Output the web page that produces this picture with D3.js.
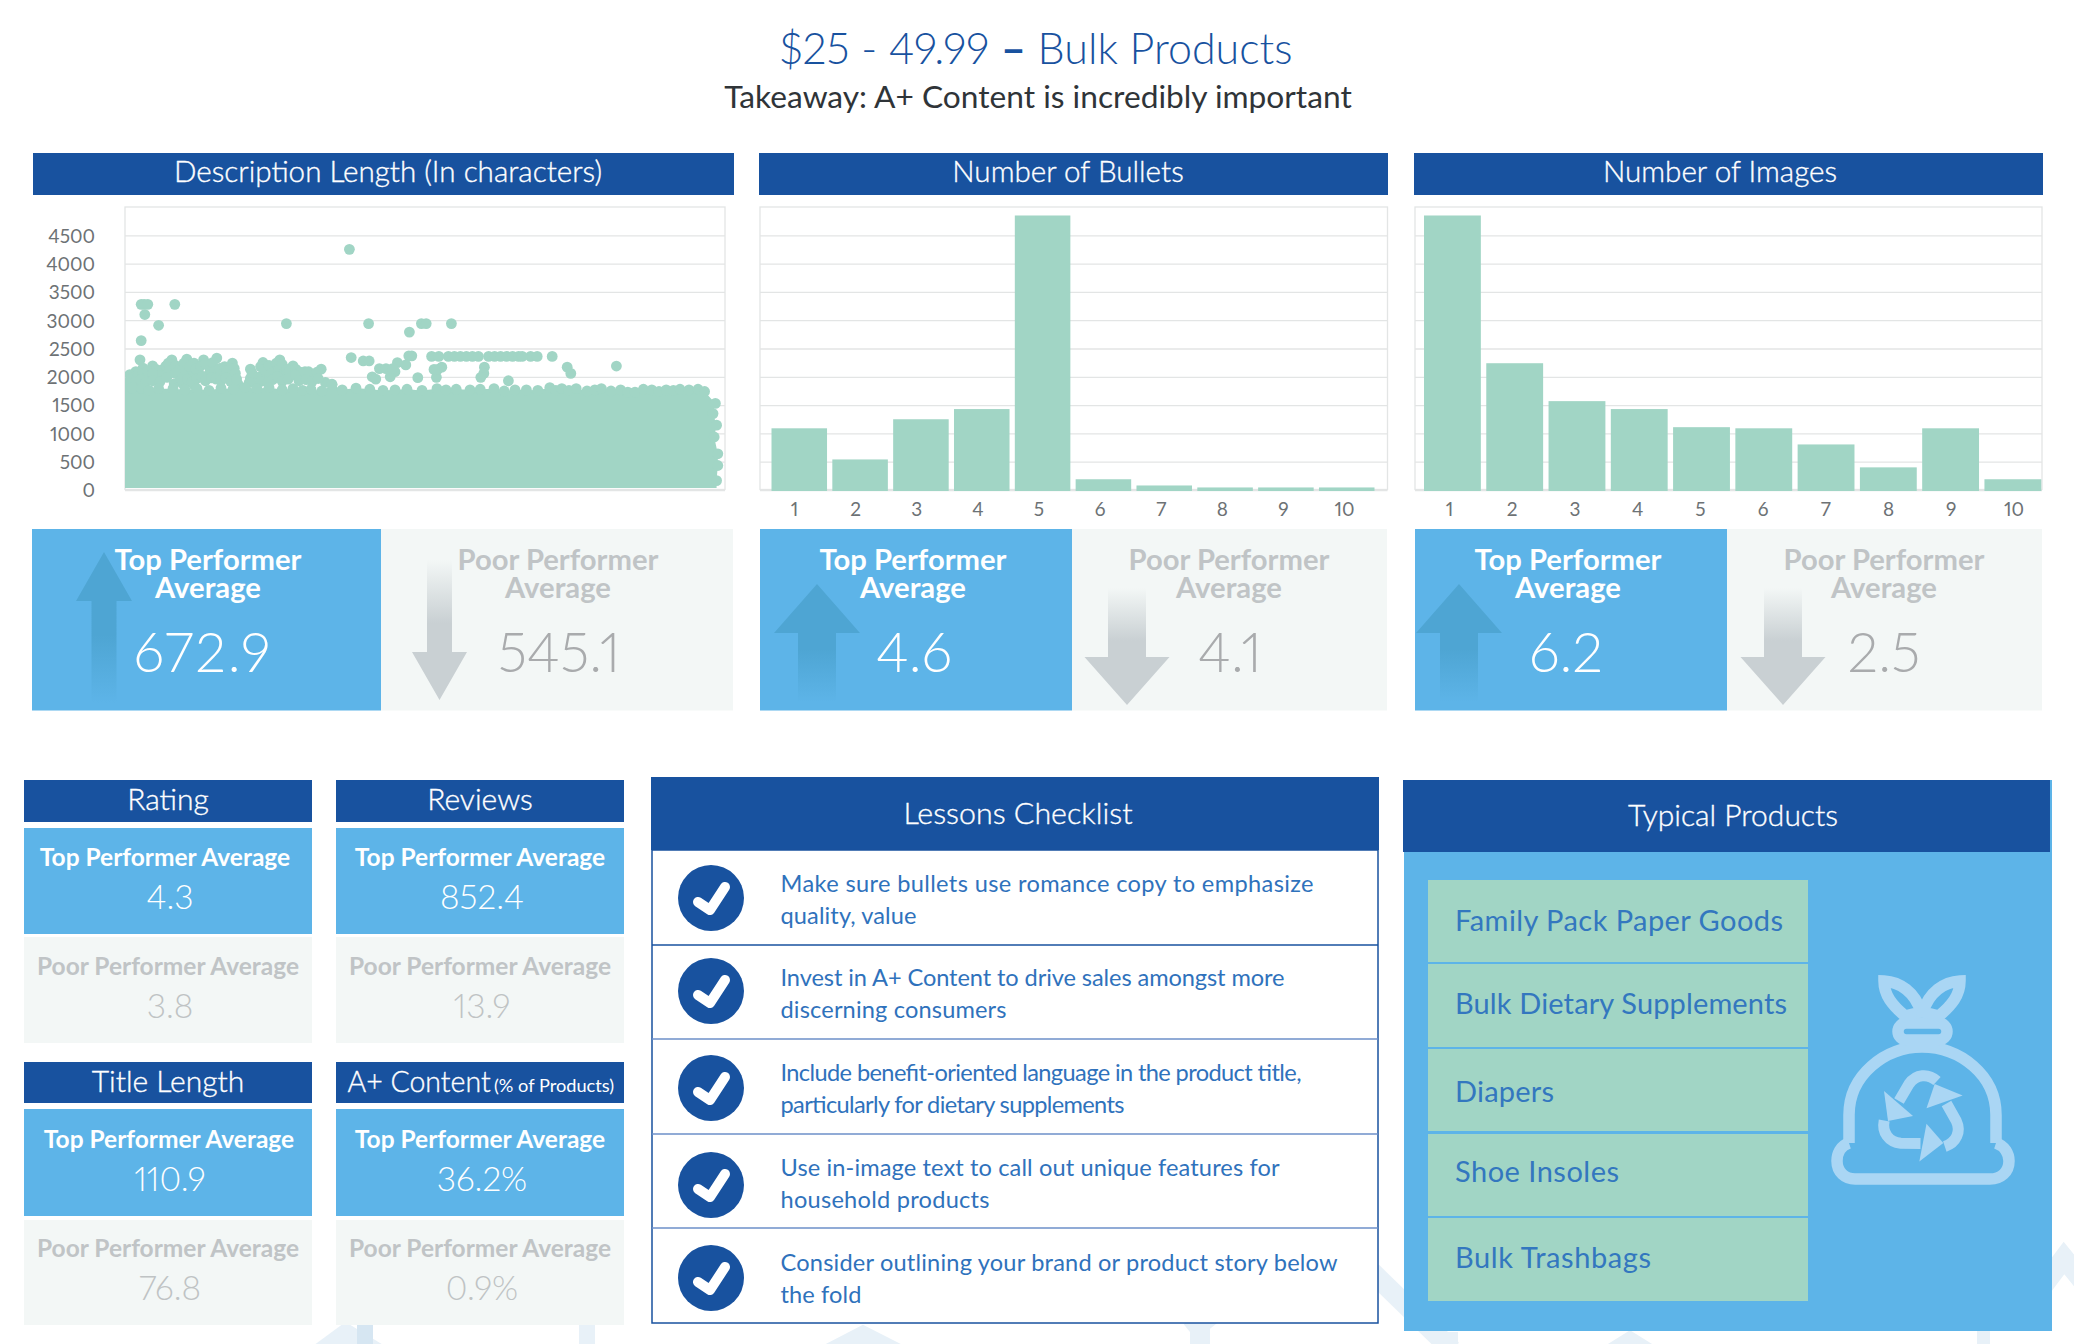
<!DOCTYPE html>
<html>
<head>
<meta charset="utf-8">
<title>$25 - 49.99 Bulk Products</title>
<script src="https://cdnjs.cloudflare.com/ajax/libs/d3/7.8.5/d3.min.js"></script>
<style>
    html, body { margin: 0; padding: 0; background: #fff; }
    svg { display: block; }
    text { font-family: Lato, "Open Sans", sans-serif; font-variant-numeric: proportional-nums; }
    /* the original face sits between Lato Light and Regular */
    .semi { stroke: currentColor; stroke-width: 0.35px; }
</style>
</head>
<body>
<svg id="board" width="2074" height="1344"></svg>
<script>
// Text
var titleParts = ['$25 - 49.99 ', '\u2013', ' Bulk Products'];
var pageSubtitle = 'Takeaway: A+ Content is incredibly important';
var chartTitles = ['Description Length (In characters)', 'Number of Bullets', 'Number of Images'];

// Description length scatter as [product rank, characters]
var scatterOutliers = [
    [374, 4252], [27, 3280], [32, 3280], [38, 3280], [83, 3280], [33, 3100], [56, 2910], [269, 2940],
    [406, 2940], [494, 2940], [502, 2940], [544, 2940], [474, 2790], [27, 2640], [25, 2300], [377, 2340],
    [397, 2280], [407, 2280], [473, 2370], [478, 2370], [511, 2360], [523, 2360], [676, 2360], [687, 2360],
    [712, 2360], [737, 2170], [743, 2060], [819, 2190], [599, 2170], [598, 2060], [593, 1990], [639, 1930],
    [488, 1985], [519, 1990], [521, 2130], [528, 2170], [515, 2130], [468, 2210], [454, 2250], [450, 2090],
    [442, 2000], [424, 2145], [435, 2145], [446, 2145], [412, 2000], [418, 1960]
];
// The run of points sitting at about 2360 characters
var scatterRun = [
    [539, 2360], [549, 2360], [559, 2360], [569, 2360], [579, 2360], [589, 2360], [606, 2360], [616, 2360],
    [626, 2360], [636, 2360], [646, 2360], [656, 2360], [662, 2360]
];
// The ridge above the solid block on the left
var scatterRidge = [
    [10, 1945], [18, 2093], [30, 2153], [46, 2194], [62, 2123], [78, 2300], [90, 2034], [103, 2313],
    [115, 2242], [123, 2064], [131, 2300], [139, 2034], [153, 2330], [163, 2064], [179, 2242], [175, 2034],
    [209, 2135], [209, 1975], [230, 2253], [236, 2004], [258, 2300], [248, 2135], [280, 2194], [268, 2034],
    [300, 2093], [313, 2034], [327, 2135], [345, 1868], [188, 1874], [82, 1874], [98, 1856], [115, 1856],
    [8, 2040], [14, 1990], [22, 2030], [30, 2060], [38, 2100], [38, 1960], [52, 2130], [56, 2020], [68, 2190],
    [72, 2240], [74, 2100], [84, 2200], [92, 2140], [98, 2240], [100, 2090], [108, 2180], [110, 2010],
    [118, 2140], [126, 2190], [134, 2230], [142, 2130], [146, 2250], [150, 2100], [158, 2150], [166, 2180],
    [170, 2120], [176, 2150], [182, 2150], [184, 2060], [212, 2060], [207, 1900], [226, 2180], [224, 2000],
    [232, 2130], [240, 2200], [244, 2060], [252, 2240], [256, 2130], [262, 2220], [270, 2130], [274, 2090],
    [285, 2130], [292, 2080], [306, 2090], [320, 2080], [334, 1900],
    [4, 1900], [18, 1920], [26, 1950], [34, 1900], [46, 2050], [46, 1930], [58, 1910], [70, 1990], [84, 2060],
    [94, 1950], [104, 1960], [112, 1910], [120, 1970], [128, 2000], [134, 1930], [144, 1980], [152, 1960],
    [160, 1930], [168, 1980], [176, 1920], [186, 1960], [210, 1900], [226, 1920], [238, 1900], [246, 1950],
    [254, 2000], [262, 1920], [272, 1960], [284, 2030], [290, 1930], [302, 1950], [312, 1920], [322, 1970]
];
// Thousands of points overlap into a solid block here and cannot be read one by one,
// so the block is drawn as the shape under its outline
var scatterBlockTop = [
    [0, 1780], [12, 1800], [28, 1790], [40, 1760], [56, 1790], [80, 1790], [100, 1770], [120, 1790],
    [140, 1760], [160, 1800], [180, 1780], [200, 1810], [220, 1790], [240, 1810], [262, 1770], [280, 1790],
    [296, 1760], [310, 1780], [328, 1750], [345, 1860], [362, 1770], [385, 1800], [408, 1780], [430, 1760],
    [450, 1770], [470, 1780], [495, 1760], [520, 1790], [535, 1770], [552, 1780], [575, 1770], [592, 1780],
    [615, 1790], [632, 1750], [650, 1770], [669, 1770], [688, 1760], [708, 1810], [718, 1760], [728, 1790],
    [740, 1760], [752, 1790], [770, 1750], [783, 1770], [794, 1790], [810, 1750], [826, 1770], [838, 1730],
    [850, 1730], [864, 1780], [878, 1770], [890, 1740], [902, 1770], [914, 1760], [925, 1780], [940, 1770],
    [955, 1780], [966, 1740]
];
var scatterBlockRight = [
    [984, 1530], [980, 1350], [986, 1145], [982, 937], [988, 640], [988, 433], [986, 166]
];

// Bar charts
var countCategories = ['1', '2', '3', '4', '5', '6', '7', '8', '9', '10'];
var bulletCounts = [1090, 540, 1250, 1430, 4850, 190, 80, 45, 45, 45];
var imageCounts = [4850, 2240, 1570, 1430, 1110, 1090, 805, 400, 1090, 190];
var yTicks = [0, 500, 1000, 1500, 2000, 2500, 3000, 3500, 4000, 4500];

// Top row averages
var topValues = ['672.9', '4.6', '6.2'];
var poorValues = ['545.1', '4.1', '2.5'];

// Small panels
var metricNames = ['Rating', 'Reviews', 'Title Length', 'A+ Content'];
var metricTop = ['4.3', '852.4', '110.9', '36.2%'];
var metricPoor = ['3.8', '13.9', '76.8', '0.9%'];

// Checklist
var lessons = [
    ['Make sure bullets use romance copy to emphasize', 'quality, value'],
    ['Invest in A+ Content to drive sales amongst more', 'discerning consumers'],
    ['Include benefit-oriented language in the product title,', 'particularly for dietary supplements'],
    ['Use in-image text to call out unique features for', 'household products'],
    ['Consider outlining your brand or product story below', 'the fold']
];
var products = ['Family Pack Paper Goods', 'Bulk Dietary Supplements', 'Diapers', 'Shoe Insoles', 'Bulk Trashbags'];

var DARK = '#18529f', BLUE = '#5db4e8', MINT = '#a1d5c5', PALE = '#f3f7f6', GRID = '#e3e5e5';

var svg = d3.select('#board');
var defs = svg.append('defs');

function label(parent, x, y, str, size, color, weight, anchor) {
    return parent.append('text')
        .attr('x', x).attr('y', y)
        .attr('text-anchor', anchor || 'middle')
        .attr('font-size', size)
        .attr('font-weight', weight || 400)
        .attr('fill', color)
        .style('color', color)
        .text(str);
}

function heading(parent, x, y, str, size, anchor) {
    return label(parent, x, y, str, size, '#fff', 300, anchor).attr('class', 'semi');
}

function box(parent, x, y, w, h, color) {
    return parent.append('rect').attr('x', x).attr('y', y).attr('width', w).attr('height', h).attr('fill', color);
}

function gradient(id, from, to, stops) {
    var g = defs.append('linearGradient').attr('id', id)
        .attr('x1', 0).attr('x2', 0).attr('y1', from).attr('y2', to);
    stops.forEach(function (s) {
        g.append('stop').attr('offset', s[0]).attr('stop-color', s[1]).attr('stop-opacity', s[2]);
    });
}

gradient('fadeUp', 0, 1, [[0, '#4ea5d3', 1], [0.55, '#4ea5d3', 1], [1, '#4ea5d3', 0]]);
gradient('fadeDown', 0, 1, [[0, '#c9d0d3', 0], [0.45, '#c9d0d3', 1], [1, '#c9d0d3', 1]]);

// Background chevrons, mostly hidden behind the panels
var watermark = svg.append('g').attr('fill', 'none').attr('stroke', '#e8f1f8').attr('stroke-width', 20);
[
    'M308,1362 L346,1334 L392,1362',
    'M805,1366 L863,1336 L922,1366',
    'M1598,1362 L1630,1342 L1662,1362',
    'M1190,1332 L1230,1300',
    'M1372,1272 L1452,1350',
    'M2040,1290 L2064,1258 L2090,1290'
].forEach(function (d) { watermark.append('path').attr('d', d); });
box(svg, 357, 1325, 16, 19, '#d6e6f2');
box(svg, 579, 1325, 16, 19, '#e8f1f8');
box(svg, 1190, 1325, 20, 19, '#e8f1f8');
box(svg, 1440, 1332, 18, 12, '#e8f1f8');
box(svg, 1977, 1331, 13, 13, '#e8f1f8');

// Page title
var titleText = label(svg, 1036, 64, '', 43, DARK, 300);
titleParts.forEach(function (part, i) {
    titleText.append('tspan').attr('font-weight', i === 1 ? 700 : 300).text(part);
});
label(svg, 1038, 108, pageSubtitle, 31.7, '#2f3438', 400);

// Chart frames: all three share one y scale, the gridlines line up across the row
var plotTop = 207, plotBottom = 490;
var y = d3.scaleLinear().domain([0, 5000]).range([plotBottom, plotTop]);

function drawFrame(x0, x1, title, titleX, barX, barW, showLabels) {
    box(svg, barX, 153, barW, 42, DARK);
    heading(svg, titleX, 182, title, 29.6);
    var g = svg.append('g');
    g.append('rect').attr('x', x0).attr('y', plotTop).attr('width', x1 - x0).attr('height', plotBottom - plotTop - 0.5)
        .attr('fill', 'none').attr('stroke', GRID).attr('stroke-width', 1.3);
    var axis = g.append('g').attr('transform', 'translate(' + x0 + ',0)')
        .call(d3.axisLeft(y).tickValues(yTicks).tickSize(x0 - x1).tickPadding(30).tickFormat(d3.format('d')));
    axis.select('.domain').remove();
    axis.selectAll('line').attr('stroke', GRID).attr('stroke-width', 1.3);
    if (showLabels) {
        axis.selectAll('text')
            .attr('font-size', 19)
            .attr('fill', '#6d7275')
            .attr('dy', '0.36em');
    } else {
        axis.selectAll('text').remove();
    }
    return g;
}

// Description length scatter
var scatterFrame = drawFrame(125, 725, chartTitles[0], 388, 33, 701, true);
var xRank = d3.scaleLinear().domain([0, 1000]).range([125, 725]);
defs.append('clipPath').attr('id', 'scatterClip').append('rect')
    .attr('x', 125).attr('y', plotTop).attr('width', 600).attr('height', plotBottom - plotTop - 2);
var scatter = scatterFrame.append('g').attr('clip-path', 'url(#scatterClip)');

var blockOutline = [[0, 0]].concat(scatterBlockTop, scatterBlockRight, [[986, 0]]);
var blockLine = d3.line()
    .x(function (d) { return xRank(d[0]); })
    .y(function (d) { return y(d[1]); });
scatter.append('path').attr('d', blockLine(blockOutline) + 'Z').attr('fill', MINT);
// point-sized dots along the outline give the block its bumpy edge
var edgeDots = scatterBlockTop.concat(scatterBlockRight);
scatter.selectAll('circle.point')
    .data(scatterOutliers.concat(scatterRun, scatterRidge, edgeDots))
    .enter().append('circle')
    .attr('class', 'point')
    .attr('cx', function (d) { return xRank(d[0]); })
    .attr('cy', function (d) { return y(d[1]); })
    .attr('r', 5.4)
    .attr('fill', MINT);

// Bar charts
function drawBars(values, x0, x1, title, titleX, barX, barW, bandRange, tickRange) {
    var frame = drawFrame(x0, x1, title, titleX, barX, barW, false);
    var band = d3.scaleBand().domain(countCategories).range(bandRange).paddingInner(0.087).paddingOuter(0);
    frame.selectAll('rect.bar')
        .data(values)
        .enter().append('rect')
        .attr('class', 'bar')
        .attr('x', function (d, i) { return band(countCategories[i]); })
        .attr('width', band.bandwidth())
        .attr('y', function (d) { return y(d); })
        .attr('height', function (d) { return y(0) - y(d) + 1; })
        .attr('fill', MINT);
    // the tick labels sit on their own spacing in the picture, a little off the bar centres
    var tickScale = d3.scalePoint().domain(countCategories).range(tickRange);
    var axis = frame.append('g').attr('transform', 'translate(0,' + plotBottom + ')')
        .call(d3.axisBottom(tickScale).tickSize(0).tickPadding(13));
    axis.select('.domain').remove();
    axis.selectAll('text').attr('font-size', 19).attr('fill', '#6d7275');
}

drawBars(bulletCounts, 760, 1387.5, chartTitles[1], 1068, 759, 629, [771.5, 1374.5], [794, 1344]);
drawBars(imageCounts, 1415, 2042, chartTitles[2], 1720, 1414, 629, [1424, 2041.3], [1449, 2013.5]);

// Up and down arrows behind the averages
function upArrow(cx, tipY, baseY, endY, headW, shaftW) {
    svg.append('path')
        .attr('d', 'M' + cx + ',' + tipY + 'L' + (cx + headW / 2) + ',' + baseY + 'H' + (cx + shaftW / 2) + 'V' + endY
            + 'H' + (cx - shaftW / 2) + 'V' + baseY + 'H' + (cx - headW / 2) + 'Z')
        .attr('fill', 'url(#fadeUp)');
}
function downArrow(cx, startY, baseY, tipY, headW, shaftW) {
    svg.append('path')
        .attr('d', 'M' + (cx - shaftW / 2) + ',' + startY + 'H' + (cx + shaftW / 2) + 'V' + baseY + 'H' + (cx + headW / 2)
            + 'L' + cx + ',' + tipY + 'L' + (cx - headW / 2) + ',' + baseY + 'H' + (cx - shaftW / 2) + 'Z')
        .attr('fill', 'url(#fadeDown)');
}

// Top row of average panels
function drawAverages(i, x0, xMid, x1, topX, poorX, topValX, poorValX, upX, downX) {
    box(svg, x0, 529, xMid - x0, 181.5, BLUE);
    box(svg, xMid, 529, x1 - xMid, 181.5, PALE);
    if (i === 0) {
        upArrow(upX, 552, 601, 703, 56, 25);
        downArrow(downX, 560, 652, 700, 55, 25);
    } else {
        upArrow(upX, 584, 633, 702, 86, 38);
        downArrow(downX, 588, 657, 705, 85, 38);
    }
    label(svg, topX, 569.5, 'Top Performer', 29.2, '#fff', 700);
    label(svg, topX, 598, 'Average', 29.2, '#fff', 700);
    label(svg, poorX, 569.5, 'Poor Performer', 29.2, '#c0c4c6', 700);
    label(svg, poorX, 598, 'Average', 29.2, '#c0c4c6', 700);
    var bigTop = label(svg, topValX, 672, topValues[i], 55, '#fff', 300);
    if (i === 0) bigTop.attr('textLength', 137);
    label(svg, poorValX, 672, poorValues[i], 55, '#a9abad', 300);
}
drawAverages(0, 32, 381, 733, 208, 558, 202, 559, 104, 439.5);
drawAverages(1, 760, 1072, 1387, 913, 1229, 914, 1230, 817, 1127);
drawAverages(2, 1415, 1727, 2042, 1568, 1884, 1566, 1884, 1459, 1783);

// Small metric panels
var metricCols = [24, 336, 24, 336];
var metricRows = [780, 780, 1062, 1062];
metricNames.forEach(function (name, i) {
    var x0 = metricCols[i], y0 = metricRows[i], cx = x0 + 144, lower = y0 > 800;
    box(svg, x0, y0, 288, lower ? 41 : 42, DARK);
    box(svg, x0, y0 + (lower ? 47 : 48), 288, lower ? 107 : 106, BLUE);
    box(svg, x0, y0 + (lower ? 158 : 157), 288, lower ? 105 : 106, PALE);
    var offset = 30;
    if (name === 'A+ Content') {
        heading(svg, 347.5, y0 + offset, name, 28.5, 'start');
        label(svg, 494, y0 + offset, '(% of Products)', 18.2, '#fff', 400, 'start');
    } else {
        heading(svg, cx, y0 + offset, name, 30);
    }
    var topCx = (i === 2) ? cx + 1 : (i === 0 ? cx - 3 : cx);
    label(svg, topCx, y0 + 86, 'Top Performer Average', 24.5, '#fff', 700);
    label(svg, cx + 2, y0 + 128.5, metricTop[i], 33.5, '#fff', 300);
    label(svg, cx, y0 + 195, 'Poor Performer Average', 24.5, '#c0c4c6', 700);
    label(svg, cx + 2, y0 + 237.5, metricPoor[i], 33.5, '#bfc3c4', 300);
});

// Lessons checklist
box(svg, 651, 777, 728, 73, DARK);
heading(svg, 1018, 824, 'Lessons Checklist', 30.4);
box(svg, 652, 850, 726, 473, '#fff').attr('stroke', DARK).attr('stroke-width', 1.5);
var rowLines = [945, 1039, 1134, 1228];
var checkY = [898, 991, 1088, 1185, 1278];
var textY = [891.5, 985.5, 1080.5, 1175.5, 1270.5];
// rendered widths of each text line, the Lato metrics differ from the original face line by line
var lessonWidths = [[533, 136], [504, 226], [521, 344], [499, 209], [557, 81]];
rowLines.forEach(function (ly, i) {
    svg.append('line').attr('x1', 652).attr('x2', 1378).attr('y1', ly).attr('y2', ly)
        .attr('stroke', i === 0 ? DARK : '#6c8fc8').attr('stroke-width', 1.6);
});
lessons.forEach(function (lines, i) {
    svg.append('circle').attr('cx', 711).attr('cy', checkY[i]).attr('r', 33).attr('fill', DARK);
    svg.append('path')
        .attr('d', 'M698,' + (checkY[i] + 4) + 'L710,' + (checkY[i] + 12) + 'L725,' + (checkY[i] - 11))
        .attr('fill', 'none').attr('stroke', '#fff').attr('stroke-width', 10)
        .attr('stroke-linecap', 'round').attr('stroke-linejoin', 'round');
    label(svg, 780.5, textY[i], lines[0], 23.6, '#2f72bc', 400, 'start').attr('textLength', lessonWidths[i][0]);
    label(svg, 780.5, textY[i] + 32, lines[1], 23.6, '#2f72bc', 400, 'start').attr('textLength', lessonWidths[i][1]);
});

// Typical products
box(svg, 1404, 780, 648, 551, BLUE);
box(svg, 1403, 780, 647, 72, DARK);
heading(svg, 1733, 826, 'Typical Products', 30);
var productTops = [880, 964, 1049, 1134, 1218];
var productBottoms = [962, 1047, 1131, 1216, 1301];
var productBase = [931, 1014, 1102, 1182, 1268];
var productWidths = [328, 332, 99, 164, 196];
products.forEach(function (name, i) {
    box(svg, 1428, productTops[i], 380, productBottoms[i] - productTops[i], MINT);
    label(svg, 1455, productBase[i], name, 29, '#3377bf', 400, 'start').attr('textLength', productWidths[i]);
});

// Trash bag icon
var bag = svg.append('g').attr('fill', 'none').attr('stroke', '#aad6f4').attr('stroke-width', 11.5);
bag.append('path').attr('d', 'M1849,1143V1115C1849,1075 1885,1047 1922,1047C1960,1047 1996,1075 1996,1115V1143');
bag.append('path').attr('d', 'M1849,1143C1840,1146 1837,1154 1837,1161C1837,1172 1845,1179 1855,1179H1990C2001,1179 2009,1172 2009,1161C2009,1154 2005,1146 1996,1143');
bag.append('rect').attr('x', 1898).attr('y', 1023).attr('width', 49).attr('height', 17).attr('rx', 8.5);
bag.append('path').attr('d', 'M1884,981C1900,982 1915,992 1921,1012L1905,1016C1892,1005 1884,995 1884,981Z');
bag.append('path').attr('d', 'M1960,981C1944,982 1929,992 1923,1012L1939,1016C1952,1005 1960,995 1960,981Z');
[0, 120, 240].forEach(function (angle) {
    var arrow = svg.append('g').attr('transform', 'rotate(' + angle + ' 1922 1116)');
    arrow.append('path').attr('d', 'M1937,1081C1928,1073 1916,1074 1909,1084L1899,1101')
        .attr('fill', 'none').attr('stroke', '#aad6f4').attr('stroke-width', 11);
    arrow.append('path').attr('d', 'M1884,1091L1913,1116L1888,1121Z').attr('fill', '#aad6f4');
});
</script>
</body>
</html>
